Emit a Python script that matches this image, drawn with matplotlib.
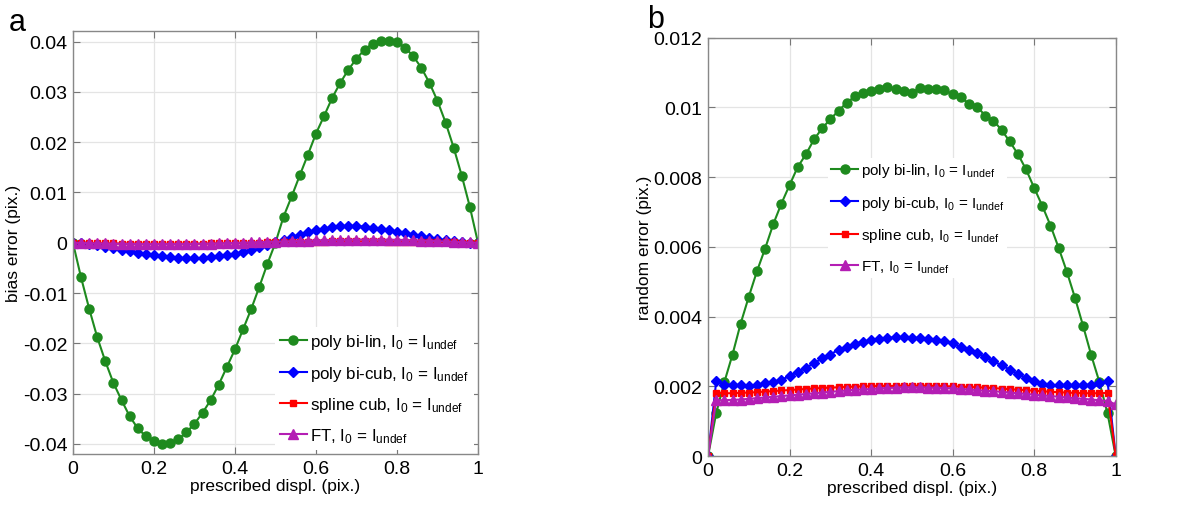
import numpy as np
import matplotlib
matplotlib.use("Agg")
import matplotlib.pyplot as plt

plt.rcParams['font.family'] = ['Liberation Sans', 'DejaVu Sans']
plt.rcParams['mathtext.fontset'] = 'custom'
plt.rcParams['mathtext.rm'] = 'Liberation Sans'
plt.rcParams['mathtext.it'] = 'Liberation Sans:italic'

# prescribed displacement (pix.)
x = np.round(np.arange(51) * 0.02, 2)

# (a) bias error
bias_bilin = [0, -0.0069, -0.0131, -0.0188, -0.0236, -0.0279, -0.0313, -0.0345, -0.0369, -0.0385,
              -0.0395, -0.0400, -0.0399, -0.0391, -0.0377, -0.0360, -0.0338, -0.0313, -0.0282, -0.0247,
              -0.0212, -0.0172, -0.0132, -0.0088, -0.0042, 0.0, 0.0052, 0.0092, 0.0134, 0.0175,
              0.0217, 0.0252, 0.0288, 0.0318, 0.0344, 0.0366, 0.0384, 0.0396, 0.0401, 0.0401,
              0.0399, 0.0388, 0.0371, 0.0348, 0.0318, 0.0282, 0.0239, 0.0189, 0.0133, 0.0071, 0.0]
bias_bicub = [0, -0.0001, -0.0003, -0.0005, -0.0008, -0.0011, -0.0014, -0.0017, -0.0020, -0.0023,
              -0.0025, -0.0027, -0.0029, -0.0030, -0.0031, -0.0031, -0.0030, -0.0029, -0.0027, -0.0025,
              -0.0022, -0.0018, -0.0014, -0.0009, -0.0004, 0.0001, 0.0006, 0.0011, 0.0016, 0.0021,
              0.0025, 0.0028, 0.0031, 0.0033, 0.0034, 0.0033, 0.0032, 0.0030, 0.0028, 0.0025,
              0.0022, 0.0019, 0.0016, 0.0013, 0.0010, 0.0007, 0.0005, 0.0003, 0.0001, 0.0000, -0.0001]
bias_spline = [0, -0.00003, -0.00006, -0.00009, -0.00012, -0.00014, -0.00016, -0.00018, -0.00019, -0.00020,
               -0.00021, -0.00021, -0.00021, -0.00020, -0.00019, -0.00018, -0.00016, -0.00014, -0.00012, -0.00009,
               -0.00006, -0.00003, 0.0, 0.00003, 0.00006, 0.00009, 0.00012, 0.00015, 0.00018, 0.00020,
               0.00022, 0.00024, 0.00025, 0.00026, 0.00027, 0.00027, 0.00027, 0.00026, 0.00025, 0.00024,
               0.00022, 0.00020, 0.00018, 0.00016, 0.00013, 0.00011, 0.00008, 0.00006, 0.00003, 0.00001, 0.0]
bias_ft = [0, -0.00004, -0.00008, -0.00012, -0.00015, -0.00018, -0.00021, -0.00023, -0.00025, -0.00026,
           -0.00027, -0.00027, -0.00027, -0.00026, -0.00024, -0.00022, -0.00019, -0.00016, -0.00012, -0.00008,
           -0.00004, 0.00001, 0.00006, 0.00011, 0.00016, 0.00021, 0.00026, 0.00031, 0.00036, 0.00041,
           0.00046, 0.00050, 0.00054, 0.00058, 0.00061, 0.00063, 0.00064, 0.00064, 0.00063, 0.00061,
           0.00058, 0.00054, 0.00049, 0.00044, 0.00038, 0.00032, 0.00026, 0.00019, 0.00012, 0.00005, -0.00001]

# (b) random error
rand_bilin = [0, 0.00123, 0.00212, 0.00291, 0.00380, 0.00457, 0.00530, 0.00595, 0.00665, 0.00724,
              0.00777, 0.00829, 0.00865, 0.00908, 0.00940, 0.00966, 0.00990, 0.01013, 0.01031, 0.01042,
              0.01048, 0.01052, 0.01058, 0.01053, 0.01046, 0.01041, 0.01056, 0.01053, 0.01052, 0.01049,
              0.01037, 0.01029, 0.01010, 0.01002, 0.00976, 0.00962, 0.00935, 0.00902, 0.00866, 0.00822,
              0.00769, 0.00717, 0.00661, 0.00597, 0.00529, 0.00454, 0.00373, 0.00289, 0.00212, 0.00122, 0]
rand_bicub = [0, 0.00214, 0.00205, 0.00205, 0.00203, 0.00201, 0.00203, 0.00208, 0.00212, 0.00219,
              0.00229, 0.00241, 0.00253, 0.00266, 0.00280, 0.00291, 0.00305, 0.00312, 0.00322, 0.00328,
              0.00332, 0.00337, 0.00339, 0.00340, 0.00340, 0.00339, 0.00339, 0.00337, 0.00332, 0.00329,
              0.00323, 0.00312, 0.00304, 0.00294, 0.00285, 0.00272, 0.00260, 0.00248, 0.00235, 0.00224,
              0.00214, 0.00206, 0.00203, 0.00203, 0.00203, 0.00203, 0.00203, 0.00205, 0.00208, 0.00214, 0]
rand_spline = [0, 0.00182, 0.00180, 0.00180, 0.00181, 0.00182, 0.00183, 0.00185, 0.00186, 0.00188,
               0.00189, 0.00191, 0.00192, 0.00194, 0.00195, 0.00196, 0.00197, 0.00198, 0.00199, 0.00200,
               0.00200, 0.00201, 0.00201, 0.00201, 0.00202, 0.00201, 0.00202, 0.00201, 0.00201, 0.00200,
               0.00200, 0.00199, 0.00198, 0.00197, 0.00196, 0.00195, 0.00193, 0.00192, 0.00190, 0.00189,
               0.00187, 0.00186, 0.00184, 0.00183, 0.00182, 0.00181, 0.00180, 0.00180, 0.00180, 0.00181, 0]
rand_ft = [0, 0.00160, 0.00160, 0.00161, 0.00162, 0.00164, 0.00166, 0.00168, 0.00170, 0.00172,
           0.00174, 0.00176, 0.00178, 0.00180, 0.00182, 0.00184, 0.00186, 0.00188, 0.00190, 0.00191,
           0.00192, 0.00194, 0.00195, 0.00196, 0.00197, 0.00197, 0.00197, 0.00196, 0.00196, 0.00195,
           0.00194, 0.00192, 0.00191, 0.00189, 0.00187, 0.00186, 0.00184, 0.00182, 0.00180, 0.00178,
           0.00176, 0.00174, 0.00172, 0.00170, 0.00168, 0.00166, 0.00164, 0.00162, 0.00160, 0.00158, 0.00148]

labels = [r'poly bi-lin, I$_0$ = I$_{\rm undef}$',
          r'poly bi-cub, I$_0$ = I$_{\rm undef}$',
          r'spline cub, I$_0$ = I$_{\rm undef}$',
          r'FT, I$_0$ = I$_{\rm undef}$']

xticks = [0, 0.2, 0.4, 0.6, 0.8, 1]
xtick_labels = ['0', '0.2', '0.4', '0.6', '0.8', '1']
yticks_a = [-0.04, -0.03, -0.02, -0.01, 0, 0.01, 0.02, 0.03, 0.04]
ytick_labels_a = ['-0.04', '-0.03', '-0.02', '-0.01', '0', '0.01', '0.02', '0.03', '0.04']
yticks_b = [0, 0.002, 0.004, 0.006, 0.008, 0.01, 0.012]
ytick_labels_b = ['0', '0.002', '0.004', '0.006', '0.008', '0.01', '0.012']

styles = [('#1e8a1e', 'o', 6.5), ('#0000ff', 'D', 5.5), ('#ff0000', 's', 5), ('#b41eb4', '^', 6.5)]


def style_axes(ax):
    ax.grid(True, color='#e4e4e4', linewidth=0.9)
    ax.set_axisbelow(True)
    ax.tick_params(direction='in', top=True, right=True, length=5, width=0.8,
                   color='#777777', labelsize=14, pad=4)
    for s in ax.spines.values():
        s.set_color('#888888')
        s.set_linewidth(1.0)
    ax.set_xlim(0, 1)
    ax.set_xticks(xticks)
    ax.set_xticklabels(xtick_labels)
    ax.set_xlabel('prescribed displ. (pix.)', fontsize=12.5, labelpad=1)


fig = plt.figure(figsize=(11.92, 5.06), dpi=100)

# (a)
ax_a = fig.add_axes([0.0612, 0.1008, 0.3398, 0.835])
for ys, (c, m, ms), lab in zip([bias_bilin, bias_bicub, bias_spline, bias_ft], styles, labels):
    ax_a.plot(x, ys, color=c, marker=m, markersize=ms, linewidth=1.5, label=lab)
style_axes(ax_a)
ax_a.set_ylim(-0.042, 0.042)
ax_a.set_yticks(yticks_a)
ax_a.set_yticklabels(ytick_labels_a)
ax_a.set_ylabel('bias error (pix.)', fontsize=12.5, labelpad=1)
leg_a = ax_a.legend(loc='lower right', bbox_to_anchor=(0.99, 0.01), fontsize=12.2, frameon=True,
                    facecolor='white', edgecolor='none', framealpha=1, handlelength=1.6,
                    handletextpad=0.2, borderaxespad=0.0, labelspacing=0.72, borderpad=0.3)

# (b)
ax_b = fig.add_axes([0.594, 0.0968, 0.342, 0.827])
for ys, (c, m, ms), lab in zip([rand_bilin, rand_bicub, rand_spline, rand_ft], styles, labels):
    ax_b.plot(x, ys, color=c, marker=m, markersize=ms, linewidth=1.5, label=lab)
style_axes(ax_b)
ax_b.set_ylim(0, 0.012)
ax_b.set_yticks(yticks_b)
ax_b.set_yticklabels(ytick_labels_b)
ax_b.set_ylabel('random error (pix.)', fontsize=12.5, labelpad=1)
leg_b = ax_b.legend(loc='upper left', bbox_to_anchor=(0.275, 0.73), fontsize=11, frameon=True,
                    facecolor='white', edgecolor='none', framealpha=1, handlelength=1.8,
                    handletextpad=0.15, labelspacing=0.95, borderpad=0.2)

fig.text(0.007, 0.985, 'a', fontsize=22, va='top')
fig.text(0.543, 0.99, 'b', fontsize=22, va='top')

fig.savefig('out.png', dpi=100)
